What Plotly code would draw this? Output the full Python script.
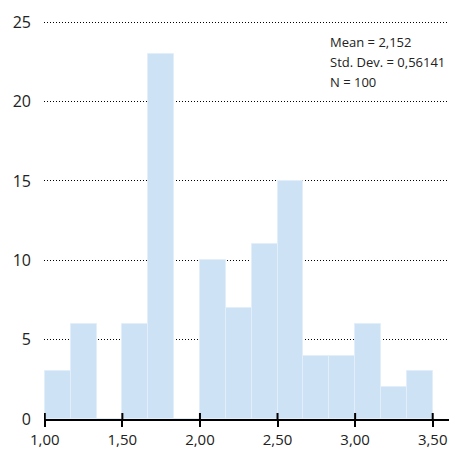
import plotly.graph_objects as go

# Histogram counts over equal-width bins starting at 1.00
bin_start = 1.0
bin_width = 1 / 6
counts = [3, 6, 0, 6, 23, 0, 10, 7, 11, 15, 4, 4, 6, 2, 3]

x_ticks = [1.0, 1.5, 2.0, 2.5, 3.0, 3.5]
y_ticks = [0, 5, 10, 15, 20, 25]

stats_lines = ["Mean = 2,152", "Std. Dev. = 0,56141", "N = 100"]

centers = [bin_start + bin_width * (i + 0.5) for i in range(len(counts))]

FONT = "Open Sans"
TEXT = "#222222"
TOP, BOTTOM = 19, 40
PLOT_H = 459 - TOP - BOTTOM

fig = go.Figure()
fig.add_trace(go.Bar(
    x=centers, y=counts, width=bin_width,
    marker=dict(color="#cde2f4", line=dict(color="#e2eef9", width=1)),
    hoverinfo="skip",
))

fig.update_layout(
    width=449, height=459,
    margin=dict(l=44, r=0, t=TOP, b=BOTTOM),
    paper_bgcolor="white", plot_bgcolor="white",
    showlegend=False, bargap=0,
    separators=",.",
    font=dict(family=FONT, color=TEXT, size=16),
    xaxis=dict(
        range=[0.995, 3.605], tickvals=x_ticks, tickformat=".2f",
        ticks="outside", ticklen=6, tickwidth=2, tickcolor="black",
        showline=True, linecolor="black", linewidth=2,
        showgrid=False, zeroline=False,
        tickfont=dict(size=15),
    ),
    yaxis=dict(
        range=[0, 25.2], tickvals=y_ticks,
        showgrid=True, gridcolor="black", griddash="1px,2px", gridwidth=1,
        zeroline=False, showline=False, ticks="",
        ticklabelstandoff=12,
        tickfont=dict(size=16),
    ),
)

# upper half of the tick marks, crossing the axis line
for t in x_ticks:
    fig.add_shape(
        type="line", xref="x", yref="y domain",
        x0=t, x1=t, y0=0, y1=6 / PLOT_H,
        line=dict(color="black", width=2), layer="above",
    )

for i, line in enumerate(stats_lines):
    fig.add_annotation(
        xref="paper", yref="paper", x=(328 - 44) / 405,
        y=1 - (42 + 20 * i - TOP) / PLOT_H,
        text=line, showarrow=False, xanchor="left", yanchor="middle",
        font=dict(size=13, color=TEXT, family=FONT),
    )

fig.write_html("out.html")
